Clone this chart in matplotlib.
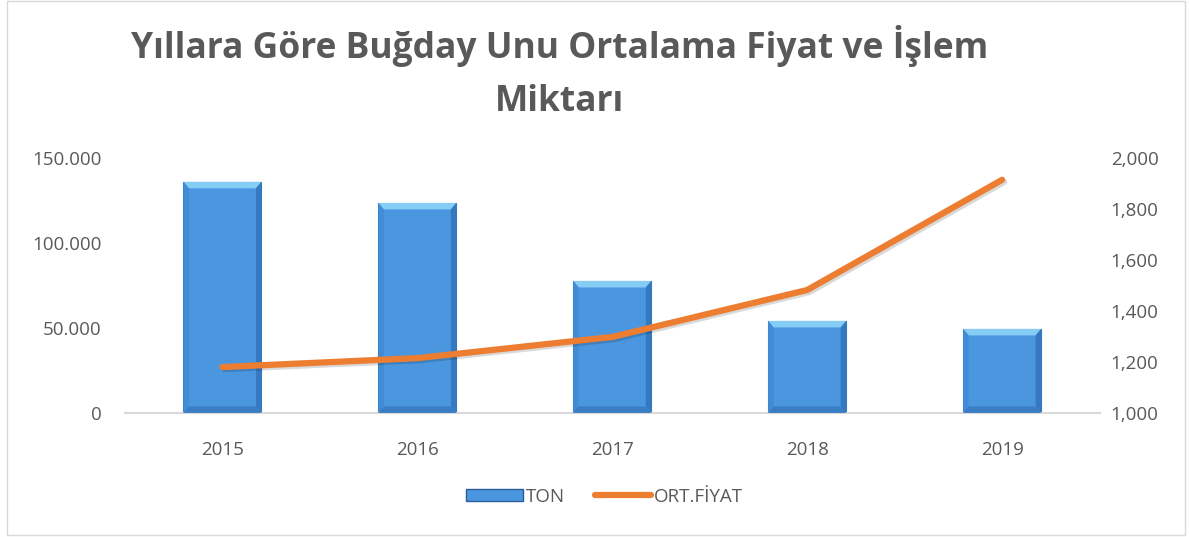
import matplotlib.pyplot as plt
from matplotlib.patches import Rectangle, Polygon
from matplotlib.ticker import FuncFormatter
import matplotlib.patheffects as pe

years = ['2015', '2016', '2017', '2018', '2019']
ton = [135900, 123500, 77600, 54100, 49400]
ort_fiyat = [1180, 1215, 1298, 1482, 1914]

title = 'Yıllara Göre Buğday Unu Ortalama Fiyat ve İşlem\nMiktarı'
grey = '#595959'
blue = '#4a97e0'
orange = '#ed7d31'

plt.rcParams['font.family'] = ['Open Sans', 'DejaVu Sans']

fig = plt.figure(figsize=(11.9, 5.37), dpi=100)
fig.patches.append(Rectangle((0.006, 0.004), 0.99, 0.994, transform=fig.transFigure,
                             fill=False, edgecolor='#d9d9d9', linewidth=1))

ax = fig.add_axes([0.105, 0.231, 0.819, 0.475])
ax2 = ax.twinx()

x = list(range(len(years)))
w = 0.4
ax.set_xlim(-0.5, len(years) - 0.5)
ax.set_ylim(0, 150000)

# bars with a simple bevel look
bx = 0.028
by = 3800
for xi, v in zip(x, ton):
    l, r = xi - w / 2, xi + w / 2
    ax.add_patch(Rectangle((l, 0), w, v, facecolor=blue, edgecolor='#3a78b8', linewidth=0.8, zorder=2))
    ax.add_patch(Polygon([(l, v), (r, v), (r - bx, v - by), (l + bx, v - by)],
                         closed=True, facecolor='#86cdf6', edgecolor='none', zorder=3))
    ax.add_patch(Polygon([(l, 0), (l, v), (l + bx, v - by), (l + bx, by)],
                         closed=True, facecolor='#428bd5', edgecolor='none', zorder=3))
    ax.add_patch(Polygon([(r, 0), (r, v), (r - bx, v - by), (r - bx, by)],
                         closed=True, facecolor='#3679c0', edgecolor='none', zorder=3))
    ax.add_patch(Polygon([(l, 0), (r, 0), (r - bx, by), (l + bx, by)],
                         closed=True, facecolor='#3a7dc4', edgecolor='none', zorder=3))

ax2.set_ylim(1000, 2000)
ax2.plot(x, ort_fiyat, color=orange, linewidth=4.5, solid_capstyle='round',
         solid_joinstyle='round', zorder=4,
         path_effects=[pe.SimpleLineShadow(offset=(1.5, -1.5), alpha=0.15), pe.Normal()])

ax.set_yticks([0, 50000, 100000, 150000])
ax.yaxis.set_major_formatter(FuncFormatter(lambda v, p: f'{int(v):,}'.replace(',', '.')))
ax2.set_yticks(range(1000, 2001, 200))
ax2.yaxis.set_major_formatter(FuncFormatter(lambda v, p: f'{int(v):,}'))
ax.set_xticks(x)
ax.set_xticklabels(years)

for a in (ax, ax2):
    for s in a.spines.values():
        s.set_visible(False)
    a.tick_params(length=0, labelsize=13.5, colors=grey)
ax.spines['bottom'].set_visible(True)
ax.spines['bottom'].set_color('#d9d9d9')
ax.spines['bottom'].set_linewidth(1.5)
ax.tick_params(axis='x', pad=20)
ax.tick_params(axis='y', pad=17)
ax2.tick_params(axis='y', pad=8)

fig.text(0.47, 0.865, title, ha='center', va='center', fontsize=25.5, fontweight='bold',
         color=grey, linespacing=1.6)

# legend
lh = [Rectangle((0, 0), 1, 1, facecolor=blue, edgecolor='#2a5f9c'),
      plt.Line2D([0], [0], color=orange, linewidth=4.5, solid_capstyle='round')]
fig.legend(lh, ['TON', 'ORT.FİYAT'], loc='center', bbox_to_anchor=(0.508, 0.075), ncol=2,
           frameon=False, fontsize=13.5, labelcolor=grey, handlelength=3.0, handleheight=0.6,
           columnspacing=1.6, handletextpad=0.15)

fig.savefig('out.png', dpi=100)
